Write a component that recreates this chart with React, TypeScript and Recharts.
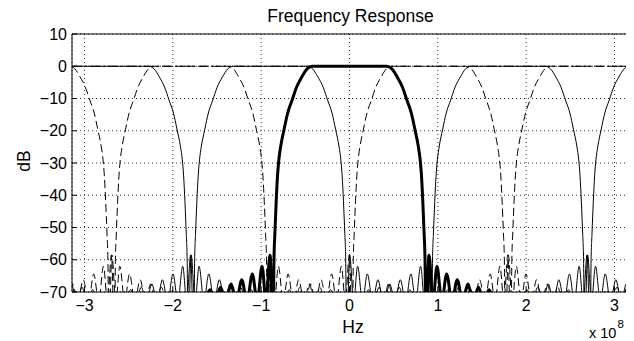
import React from 'react';
import { LineChart, Line, XAxis, YAxis, CartesianGrid } from 'recharts';

// Frequency axis is in units of 1e8 Hz (the "x 10^8" multiplier)
const xTicks = [-3, -2, -1, 0, 1, 2, 3];
const yTicks = [-70, -60, -50, -40, -30, -20, -10, 0, 10];
const xDomain: [number, number] = [-3.1416, 3.1416];
const yDomain: [number, number] = [-70, 10];

// Channel centres of the filter bank (units of 1e8 Hz)
const thickCenters = [0];
const thinCenters = [-2.693, -0.898, 1.795];
const dashedCenters = [-1.795, 0.898, 2.693];
// the x-axis spans one full period of the spectrum
const spectrumPeriod = 6.2832;
const periodCopies = [-1, 0, 1];

// Prototype channel response: offset from channel centre vs dB
const protoOffset = [
  -1.7, -1.64, -1.58, -1.52, -1.46, -1.4, -1.34, -1.28, -1.22, -1.16, -1.1, -1.045, -0.99, -0.945, -0.9, -0.865,
  -0.855, -0.845, -0.83, -0.815, -0.8, -0.78, -0.74, -0.7, -0.65, -0.6, -0.54, -0.48, -0.42,
  0.42, 0.48, 0.54, 0.6, 0.65, 0.7, 0.74, 0.78, 0.8, 0.815, 0.83, 0.845, 0.855,
  0.865, 0.9, 0.945, 0.99, 1.045, 1.1, 1.16, 1.22, 1.28, 1.34, 1.4, 1.46, 1.52, 1.58, 1.64, 1.7,
];
const protoDb = [
  -74, -73, -69.3, -73, -68.5, -73, -67.5, -73, -66.2, -73, -64.4, -73, -62, -73, -58.5, -85,
  -60, -52, -42, -34, -29, -25, -19.5, -14.5, -10.5, -6.5, -3.3, -0.8, 0,
  0, -0.8, -3.3, -6.5, -10.5, -14.5, -19.5, -25, -29, -34, -42, -52, -60,
  -85, -58.5, -73, -62, -73, -64.4, -73, -66.2, -73, -67.5, -73, -68.5, -73, -69.3, -73, -74,
];

// Sum of all channels: flat 0 dB
const allpassX = [-3.1416, 3.1416];
const allpassDb = [0, 0];

type Pt = { x: number; y: number };

function channelData(center: number): Pt[] {
  const pts: Pt[] = [];
  periodCopies.forEach((m) => {
    protoOffset.forEach((d, i) => {
      pts.push({ x: center + m * spectrumPeriod + d, y: protoDb[i] });
    });
  });
  return pts;
}

const allpassData: Pt[] = allpassX.map((x, i) => ({ x, y: allpassDb[i] }));

const FONT = "'Liberation Sans', Arial, Helvetica, sans-serif";
const minus = (v: number) => String(v).replace('-', '\u2212');

export default function App() {
  return (
    <div style={{ position: 'relative', width: 626, height: 333 }}>
      <LineChart width={626} height={325} margin={{ top: 0, right: 0, bottom: 0, left: 0 }}>
        <CartesianGrid stroke="#333" strokeDasharray="1 3" strokeWidth={1} />
        <XAxis
          xAxisId={0}
          type="number"
          dataKey="x"
          domain={xDomain}
          ticks={xTicks}
          allowDataOverflow
          interval={0}
          height={41}
          tickSize={-5}
          tickMargin={13}
          tickFormatter={minus}
          axisLine={{ stroke: '#000' }}
          tickLine={{ stroke: '#000' }}
          tick={{ fill: '#000', fontSize: 16, fontFamily: FONT }}
        />
        <XAxis
          xAxisId="top"
          orientation="top"
          type="number"
          dataKey="x"
          domain={xDomain}
          ticks={xTicks}
          allowDataOverflow
          interval={0}
          height={26}
          tickSize={-5}
          tick={false}
          axisLine={{ stroke: '#000' }}
          tickLine={{ stroke: '#000' }}
        />
        <YAxis
          yAxisId={0}
          type="number"
          domain={yDomain}
          ticks={yTicks}
          allowDataOverflow
          interval={0}
          width={64}
          tickSize={-5}
          tickMargin={10}
          tickFormatter={minus}
          axisLine={{ stroke: '#000' }}
          tickLine={{ stroke: '#000' }}
          tick={{ fill: '#000', fontSize: 16, fontFamily: FONT }}
        />
        <YAxis
          yAxisId="right"
          orientation="right"
          type="number"
          domain={yDomain}
          ticks={yTicks}
          allowDataOverflow
          interval={0}
          width={7}
          tickSize={-5}
          tick={false}
          axisLine={{ stroke: '#000' }}
          tickLine={{ stroke: '#000' }}
        />
        {thickCenters.map((c) => (
          <Line
            key={'thick' + c}
            data={channelData(c)}
            dataKey="y"
            type="monotone"
            stroke="#000"
            strokeWidth={3}
            dot={false}
            isAnimationActive={false}
          />
        ))}
        {thinCenters.map((c) => (
          <Line
            key={'thin' + c}
            data={channelData(c)}
            dataKey="y"
            type="monotone"
            stroke="#000"
            strokeWidth={1}
            dot={false}
            isAnimationActive={false}
          />
        ))}
        {dashedCenters.map((c) => (
          <Line
            key={'dash' + c}
            data={channelData(c)}
            dataKey="y"
            type="monotone"
            stroke="#000"
            strokeWidth={1}
            strokeDasharray="8 4"
            dot={false}
            isAnimationActive={false}
          />
        ))}
        <Line
          data={allpassData}
          dataKey="y"
          type="linear"
          stroke="#000"
          strokeWidth={1}
          strokeDasharray="10 3 2 3"
          dot={false}
          isAnimationActive={false}
        />
      </LineChart>
      <svg
        width={626}
        height={333}
        style={{ position: 'absolute', left: 0, top: 0, overflow: 'visible', pointerEvents: 'none' }}
      >
        <text x={342.5} y={14} textAnchor="middle" fontSize={17.5} fontFamily={FONT} fill="#000">
          Frequency Response
        </text>
        <text x={345} y={325} textAnchor="middle" fontSize={17.5} fontFamily={FONT} fill="#000">
          Hz
        </text>
        <text x={581} y={330} fontSize={14.5} fontFamily={FONT} fill="#000">
          x 10
        </text>
        <text x={609.5} y={320} fontSize={11.5} fontFamily={FONT} fill="#000">
          8
        </text>
        <text
          x={22}
          y={153}
          textAnchor="middle"
          fontSize={17.5}
          fontFamily={FONT}
          fill="#000"
          transform="rotate(-90 22 153)"
        >
          dB
        </text>
      </svg>
    </div>
  );
}
